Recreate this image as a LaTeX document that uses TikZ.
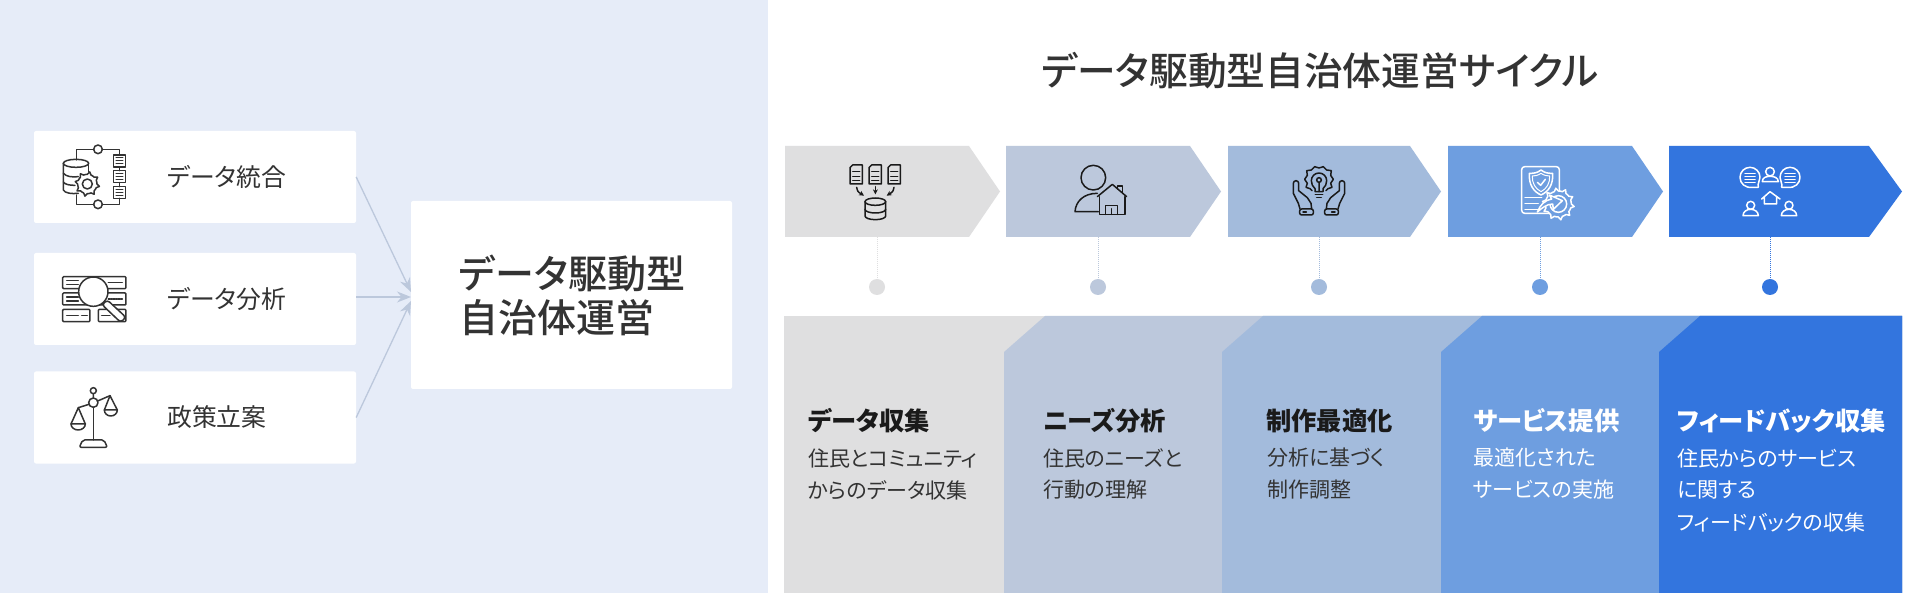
\documentclass[tikz,border=0pt]{standalone}
\usepackage{fontspec}
\setmainfont[RawFeature=+palt]{Noto Sans CJK JP}
\newfontfamily\medfont[RawFeature=+palt]{Noto Sans CJK JP Medium}
\usetikzlibrary{arrows.meta}
\definecolor{panelbg}{HTML}{E6ECF8}
\definecolor{inkgray}{HTML}{333333}
\definecolor{inkblack}{HTML}{1A1A1A}
\definecolor{stepa}{HTML}{DFDFE0}
\definecolor{stepb}{HTML}{BCC8DC}
\definecolor{stepc}{HTML}{A3BBDC}
\definecolor{stepd}{HTML}{6E9EE0}
\definecolor{stepe}{HTML}{3375DE}
% gear outline: center x, center y, inner radius, tooth height, teeth
\newcommand{\gearline}[5]{plot[domain=0:360,samples=#5*4+1,shift={(#1,#2)}] (\x:{#3+#4*(sin(#5*\x)>0)}) -- cycle}

\begin{document}
\begin{tikzpicture}[x=1pt,y=-1pt]
	\tikzstyle{whitebox} = [rectangle, fill=white, rounded corners=2pt, inner sep=0pt]
	\tikzstyle{boxlabel} = [anchor=west, inner sep=0pt, text=inkgray, font=\fontsize{24.8}{25}\selectfont]
	\tikzstyle{headlabel} = [anchor=west, inner sep=0pt, font=\bfseries\fontsize{25.3}{25}\selectfont]
	\tikzstyle{sublabel} = [anchor=west, inner sep=0pt, font=\fontsize{21}{21}\selectfont]
	\tikzstyle{dot} = [circle, minimum size=16pt, inner sep=0pt]
	\tikzstyle{feed} = [-{Stealth[length=14pt,width=11pt]}, draw=stepb, fill=stepb, line width=1.3pt]
	\tikzstyle{icon} = [line width=1.5pt, line join=round, line cap=round]

	\useasboundingbox (0,0) rectangle (1920,593);
	\fill[white] (0,0) rectangle (1920,593);
	\fill[panelbg] (0,0) rectangle (768,593);

	%%% DRAW THE LEFT BOXES
	\foreach \name / \y / \txt in {1/177/データ統合, 2/299/データ分析, 3/417.5/政策立案} {
		\node[whitebox, minimum width=322pt, minimum height=92pt] (B-\name) at (195,\y) {};
		\node[boxlabel] (L-\name) at (167,\y) {\txt};
	}
	\node[whitebox, minimum width=321pt, minimum height=188pt] (hub) at (571.5,295) {};
	\node[anchor=west, inner sep=0pt, align=left, text=inkgray, font=\medfont\fontsize{39}{44}\selectfont] (hubtext) at (459,295) {データ駆動型\\自治体運営};
	\coordinate (I-1) at (411,292);
	\coordinate (S-2) at (356,297);
	\coordinate (I-2) at (411,297);
	\coordinate (I-3) at (411,301);

	%%% DRAW THE ARROWS
	\draw[feed] (B-1.east) -- (I-1);
	\draw[feed] (S-2) -- (I-2);
	\draw[feed] (B-3.east) -- (I-3);

	\node[inner sep=0pt, text=inkgray, font=\medfont\fontsize{38.7}{38.7}\selectfont] (title) at (1320,71) {データ駆動型自治体運営サイクル};

	%%% DRAW THE CHEVRONS
	\foreach \name / \xa / \xb / \xc / \col in {1/785/969/1000/stepa, 2/1006/1190/1221/stepb, 3/1228/1410/1441/stepc, 4/1448/1632/1663/stepd, 5/1669/1869/1902/stepe}
		\fill[\col] (\xa,146) -- (\xb,146) -- (\xc,191.5) -- (\xb,237) -- (\xa,237) -- cycle;

	%%% DRAW THE DOTS
	\foreach \name / \x / \col in {1/877/stepa, 2/1098/stepb, 3/1319/stepc, 4/1540/stepd, 5/1770/stepe} {
		\coordinate (C-\name) at (\x,237);
		\node[dot, fill=\col] (D-\name) at (\x,287) {};
		\path[draw=\col, line width=1pt, densely dotted] (C-\name) -- (D-\name);
	}

	%%% DRAW THE PANELS
	\fill[stepa] (784,316) rectangle (1902,593);
	\foreach \x / \col in {1004/stepb, 1222/stepc, 1441/stepd, 1659/stepe}
		\fill[\col] (\x,593) -- (\x,352) -- (\x+41,316) -- (1902,316) -- (1902,593) -- cycle;

	%%% PANEL TEXT
	\node[headlabel, text=inkblack] (H-1) at (808,421) {データ収集};
	\node[sublabel, text=inkgray] (T-1a) at (808,458) {住民とコミュニティ};
	\node[sublabel, text=inkgray] (T-1b) at (808,490) {からのデータ収集};
	\node[headlabel, text=inkblack] (H-2) at (1043,421) {ニーズ分析};
	\node[sublabel, text=inkgray] (T-2a) at (1043,458) {住民のニーズと};
	\node[sublabel, text=inkgray] (T-2b) at (1043,490) {行動の理解};
	\node[headlabel, text=inkblack] (H-3) at (1266,421) {制作最適化};
	\node[sublabel, text=inkgray] (T-3a) at (1267,458) {分析に基づく};
	\node[sublabel, text=inkgray] (T-3b) at (1267,490) {制作調整};
	\node[headlabel, text=white] (H-4) at (1473,421) {サービス提供};
	\node[sublabel, text=white] (T-4a) at (1473,458) {最適化された};
	\node[sublabel, text=white] (T-4b) at (1473,490) {サービスの実施};
	\node[headlabel, text=white] (H-5) at (1677,421) {フィードバック収集};
	\node[sublabel, text=white] (T-5a) at (1677,458) {住民からのサービス};
	\node[sublabel, text=white] (T-5b) at (1677,490) {に関する};
	\node[sublabel, text=white] (T-5c) at (1677,522) {フィードバックの収集};

	%%% ICON: DATA INTEGRATION
	\begin{scope}[shift={(0,110)}, scale=1/3, icon]
		\draw[draw=inkgray] (230,150) -- (230,118) -- (281,118) (307,118) -- (358,118) -- (358,135);
		\draw[draw=inkgray] (358,265) -- (358,283) -- (307,283) (281,283) -- (230,283) -- (230,255);
		\draw[draw=inkgray] (294,118) circle (13) (294,283) circle (13);
		\foreach \y in {135,182,230} {
			\draw[draw=inkgray] (340,\y) rectangle (377,\y+36);
			\foreach \d in {9,18,27}
				\draw[draw=inkgray, line width=1pt] (348,\y+\d) -- (369,\y+\d);
		}
		\draw[draw=inkgray] (358,171) -- (358,182) (358,218) -- (358,230);
		\draw[draw=inkgray] (228,160) ellipse (38 and 12);
		\draw[draw=inkgray] (190,160) -- (190,240) .. controls (195,250) and (215,252) .. (235,250);
		\draw[draw=inkgray] (190,190) .. controls (200,200) and (215,202) .. (235,200);
		\draw[draw=inkgray] (190,216) .. controls (195,224) and (210,226) .. (225,226);
		\draw[draw=inkgray] (266,160) -- (266,185);
		\draw[draw=inkgray, fill=white] \gearline{262}{222}{29}{8}{8};
		\draw[draw=inkgray] (262,222) circle (15);
	\end{scope}

	%%% ICON: DATA ANALYSIS
	\begin{scope}[shift={(0,110)}, scale=1/3, icon]
		\foreach \y in {500,549} {
			\draw[draw=inkgray, rounded corners=1pt] (188,\y) rectangle (378,\y+36);
			\draw[draw=inkgray] (200,\y+12) -- (235,\y+12) (200,\y+24) -- (235,\y+24);
			\draw[draw=inkgray, densely dotted] (325,\y+18) -- (368,\y+18);
		}
		\draw[draw=inkgray, rounded corners=1pt] (188,598) rectangle (270,635);
		\draw[draw=inkgray, rounded corners=1pt] (295,598) rectangle (378,635);
		\draw[draw=inkgray] (200,617) -- (235,617);
		\draw[draw=inkgray, densely dotted] (245,617) -- (262,617);
		\draw[draw=inkgray] (305,617) -- (330,617);
		\draw[draw=inkgray, fill=white, rounded corners=3pt] (306,584) -- (322,570) -- (378,622) -- (362,637) -- cycle;
		\draw[draw=inkgray, fill=white] (280,545) circle (44);
	\end{scope}

	%%% ICON: POLICY SCALES
	\begin{scope}[shift={(0,110)}, scale=1/3, icon]
		\draw[draw=inkgray] (280,842) circle (9) (280,851) -- (280,864);
		\draw[draw=inkgray] (280,892) -- (280,990);
		\draw[draw=inkgray] (235,893) -- (267,883) (293,873) -- (330,857);
		\draw[draw=inkgray] (280,878) circle (14);
		\draw[draw=inkgray] (213,942) -- (235,893) -- (256,942);
		\draw[draw=inkgray] (213,942) -- (256,942) arc (0:180:21.5 and 18);
		\draw[draw=inkgray] (313,900) -- (330,857) -- (352,900);
		\draw[draw=inkgray] (313,900) -- (352,900) arc (0:180:19.5 and 18);
		\draw[draw=inkgray, rounded corners=2pt] (248,990) -- (312,990) -- (322,1012) -- (238,1012) -- cycle;
	\end{scope}

	%%% ICON: DOCUMENTS TO DATABASE
	\begin{scope}[shift={(770,130)}, scale=1/3, icon]
		\foreach \x in {240,297,354} {
			\draw[draw=inkblack] (\x+8,105) -- (\x+37,105) -- (\x+37,162) -- (\x,162) -- (\x,113) -- cycle;
			\foreach \y in {125,139,152}
				\draw[draw=inkblack] (\x+8,\y) -- (\x+29,\y);
		}
		\draw[draw=inkblack, -{Stealth[length=5pt,width=5pt]}] (260,172) .. controls (263,185) .. (282,197);
		\draw[draw=inkblack, -{Stealth[length=5pt,width=5pt]}] (316,170) -- (316,193);
		\draw[draw=inkblack, -{Stealth[length=5pt,width=5pt]}] (372,172) .. controls (369,185) .. (350,197);
		\draw[draw=inkblack] (316,215) ellipse (31 and 11);
		\draw[draw=inkblack] (285,215) -- (285,258) arc (180:0:31 and 11) -- (347,215);
		\draw[draw=inkblack] (285,238) arc (180:0:31 and 11);
	\end{scope}

	%%% ICON: PERSON AND HOUSE
	\begin{scope}[shift={(770,130)}, scale=1/3, icon]
		\draw[draw=inkblack] (970,143) circle (37);
		\draw[draw=inkblack] (985,245) -- (915,245) .. controls (917,215) and (940,190) .. (982,190);
		\draw[draw=inkblack] (982,200) -- (1027,163) -- (1070,200);
		\draw[draw=inkblack] (1043,176) -- (1043,168) -- (1058,168) -- (1058,190);
		\draw[draw=inkblack] (988,200) -- (988,253) -- (1065,253) -- (1065,200);
		\draw[draw=inkblack] (1007,253) -- (1007,227) -- (1043,227) -- (1043,253);
		\draw[draw=inkblack] (1025,236) -- (1025,253);
	\end{scope}

	%%% ICON: HANDS AND BULB
	\begin{scope}[shift={(1270,150)}, scale=1/3, icon]
		\draw[draw=inkblack] (126,122) -- (120,116) -- (108,112) -- (112,100) -- (104,88) -- (112,76) -- (110,62) -- (124,60) -- (134,50) -- (147,54) -- (160,50) -- (170,60) -- (184,62) -- (182,76) -- (190,88) -- (182,100) -- (186,112) -- (174,116) -- (168,122);
		\draw[draw=inkblack] (135,125) -- (135,116) .. controls (128,110) and (124,102) .. (124,92) arc (180:360:23) .. controls (170,102) and (166,110) .. (159,116) -- (159,125) -- cycle;
		\draw[draw=inkblack] (136,134) -- (158,134) (140,143) -- (154,143);
		\draw[draw=inkblack] (147,90) circle (7) (147,97) -- (147,125);
		\foreach \m in {1,-1} {
			\begin{scope}[xshift=147pt, xscale=\m]
				\draw[draw=inkblack] (-57,177) -- (-62,160) -- (-77,130) -- (-77,100) arc (180:360:8) -- (-61,122) -- (-35,143) -- (-24,160) -- (-22,177);
				\draw[draw=inkblack, rounded corners=2pt] (-58,177) rectangle (-17,195);
				\draw[draw=inkblack] (-48,186) -- (-38,186);
			\end{scope}
		}
	\end{scope}

	%%% ICON: SHIELD DOCUMENT
	\begin{scope}[shift={(1430,130)}, scale=1/3, icon]
		\draw[draw=white, rounded corners=3pt] (275,110) rectangle (388,250);
		\draw[draw=white] (333,120) .. controls (345,130) and (358,130) .. (368,130) .. controls (370,165) and (355,185) .. (333,195) .. controls (311,185) and (296,165) .. (298,130) .. controls (308,130) and (321,130) .. (333,120) -- cycle;
		\draw[draw=white, line width=1pt] (333,130) .. controls (343,137) and (352,138) .. (359,138) .. controls (360,160) and (350,176) .. (333,185) .. controls (316,176) and (306,160) .. (307,138) .. controls (314,138) and (323,137) .. (333,130) -- cycle;
		\draw[draw=white] (322,157) -- (332,166) -- (346,148);
		\draw[draw=white] (285,203) -- (335,203) (285,220) -- (325,220) (285,238) -- (325,238);
		\draw[draw=white, fill=stepd] \gearline{385}{222}{39}{9}{10};
		\draw[draw=white, fill=stepd] (385,222) circle (25);
		\draw[draw=white, fill=stepd] (322,246) .. controls (330,225) and (345,210) .. (365,207) -- (358,195) -- (397,212) -- (370,238) -- (368,222) .. controls (350,222) and (335,235) .. (322,246) -- cycle;
	\end{scope}

	%%% ICON: RESIDENTS FEEDBACK
	\begin{scope}[shift={(1430,130)}, scale=1/3, icon]
		\draw[draw=white] (985,172) -- (968,172) .. controls (945,175) and (930,160) .. (930,142) arc (180:360:30) .. controls (990,152) and (982,160) .. (985,172);
		\draw[draw=white] (1055,172) -- (1072,172) .. controls (1095,175) and (1110,160) .. (1110,142) arc (0:-180:30) .. controls (1050,152) and (1058,160) .. (1055,172);
		\foreach \x in {960,1080}
			\foreach \y in {130,139,148,157}
				\draw[draw=white] (\x-15,\y) -- (\x+15,\y);
		\draw[draw=white] (1020,125) circle (13);
		\draw[draw=white] (997,155) -- (1045,155) .. controls (1045,143) and (1032,139) .. (1020,139) .. controls (1008,139) and (997,143) .. (997,155) -- cycle;
		\draw[draw=white] (995,207) -- (1020,185) -- (1050,207) (1003,200) -- (1003,222) -- (1040,222) -- (1040,200);
		\foreach \x in {962,1077} {
			\draw[draw=white] (\x,226) circle (12);
			\draw[draw=white] (\x-23,257) -- (\x+23,257) .. controls (\x+23,245) and (\x+12,238) .. (\x,238) .. controls (\x-12,238) and (\x-23,245) .. (\x-23,257) -- cycle;
		}
	\end{scope}
\end{tikzpicture}
\end{document}
